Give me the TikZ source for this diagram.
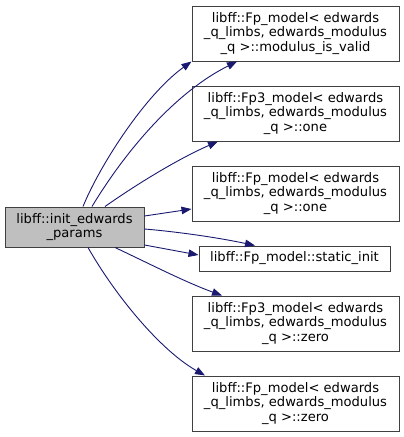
\documentclass[tikz,border=0pt]{standalone}
\usepackage{fontspec}
\setmainfont{DejaVu Sans}
\usetikzlibrary{arrows.meta,calc}
\definecolor{edgecol}{HTML}{191970}
\definecolor{srcfill}{HTML}{BFBFBF}
\begin{document}
\begin{tikzpicture}[x=1pt,y=-1pt,
  box/.style={draw=black!75,line width=1pt,inner sep=0pt,align=center,
    font=\fontsize{13.1}{14.8}\selectfont},
  edge/.style={draw=edgecol,line width=0.9pt,-{Triangle[length=10pt,width=7.5pt]}}]
\useasboundingbox (0,0) rectangle (404,437);
\node[box,fill=srcfill,minimum width=139pt,minimum height=40pt] (src) at (74.5,227) {libff::init\_edwards\\\_params};
\node[box,minimum width=207pt,minimum height=55pt] (n1) at (295.5,33.5) {libff::Fp\_model< edwards\\\_q\_limbs, edwards\_modulus\\\_q >::modulus\_is\_valid};
\node[box,minimum width=207pt,minimum height=55pt] (n2) at (295.5,113.5) {libff::Fp3\_model< edwards\\\_q\_limbs, edwards\_modulus\\\_q >::one};
\node[box,minimum width=207pt,minimum height=55pt] (n3) at (295.5,193.5) {libff::Fp\_model< edwards\\\_q\_limbs, edwards\_modulus\\\_q >::one};
\node[box,minimum width=191pt,minimum height=25pt] (n4) at (294.5,258.5) {libff::Fp\_model::static\_init};
\node[box,minimum width=207pt,minimum height=55pt] (n5) at (295.5,323.5) {libff::Fp3\_model< edwards\\\_q\_limbs, edwards\_modulus\\\_q >::zero};
\node[box,minimum width=207pt,minimum height=55pt] (n6) at (295.5,403.5) {libff::Fp\_model< edwards\\\_q\_limbs, edwards\_modulus\\\_q >::zero};
% edges
\draw[edge] ($(src.north)+(8.5,0)$) .. controls (100,165) and (145,95) .. (n1.south west);
\draw[edge] ($(src.north)+(17.5,0)$) .. controls (120,160) and (170,95) .. ($(n1.south)+(-58.5,0)$);
\draw[edge] ($(src.north)+(30.5,0)$) .. controls (140,182) and (180,158) .. ($(n2.south)+(-77.5,0)$);
\draw[edge] ($(src.east)+(0,-11)$) -- ($(n3.west)+(0,15.5)$);
\draw[edge] ($(src.east)+(0,2)$) .. controls (180,232) and (220,238) .. ($(n4.north)+(-39.5,0)$);
\draw[edge] ($(src.east)+(0,18)$) -- ($(n4.west)+(0,-3.5)$);
\draw[edge] ($(src.south)+(40.5,0)$) .. controls (150,264) and (185,282) .. ($(n5.north)+(-73.5,0)$);
\draw[edge] ($(src.south)+(13.5,0)$) .. controls (115,295) and (160,350) .. ($(n6.north)+(-90.5,0)$);
\end{tikzpicture}
\end{document}
